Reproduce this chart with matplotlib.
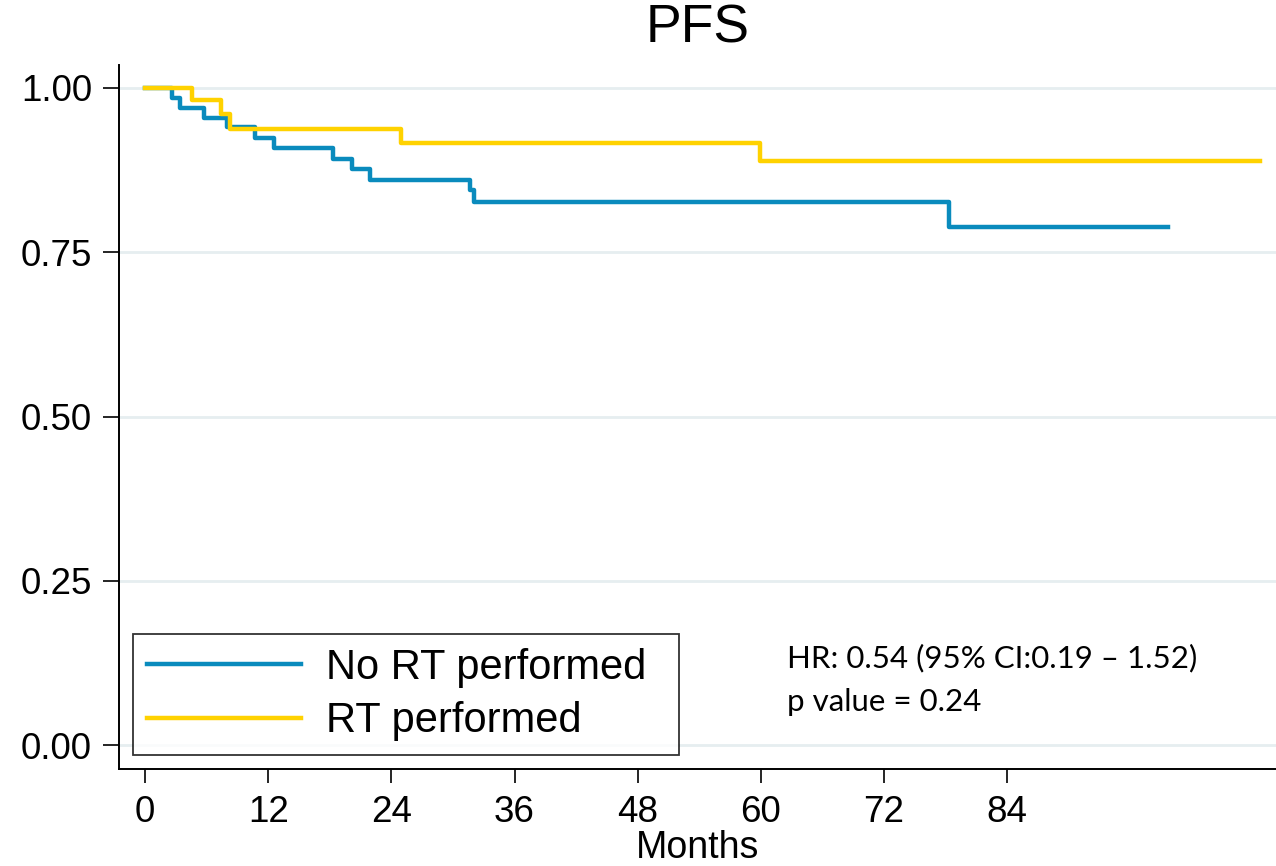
import matplotlib
matplotlib.use("Agg")
import matplotlib.pyplot as plt
import numpy as np

plt.rcParams['font.family'] = ['Liberation Sans', 'DejaVu Sans']

# Kaplan-Meier step data (months, survival probability)
no_rt_times = [0, 2.6, 3.4, 5.7, 8.0, 10.7, 12.6, 18.3, 20.2, 21.9, 31.7, 32.1, 78.3, 99.7]
no_rt_surv = [1.000, 0.985, 0.970, 0.955, 0.940, 0.924, 0.908, 0.892, 0.876, 0.860, 0.844, 0.827, 0.789, 0.789]
rt_times = [0, 4.6, 7.4, 8.3, 24.9, 59.9, 108.6]
rt_surv = [1.000, 0.981, 0.961, 0.938, 0.917, 0.889, 0.889]

labels = ["No RT performed", "RT performed"]
colors = ["#0a8bbd", "#ffd200"]

x_ticks = [0, 12, 24, 36, 48, 60, 72, 84]
y_ticks = [0.00, 0.25, 0.50, 0.75, 1.00]

fig = plt.figure(figsize=(12.76, 8.66), dpi=100)
L, R, B, T = 119, 1276, 769, 65
ax = fig.add_axes([L/1276, 1-B/866, (R-L)/1276, (B-T)/866])

for y in y_ticks:
    ax.axhline(y, color="#e6eef0", lw=2, zorder=0)

ax.step(no_rt_times, no_rt_surv, where="post", color=colors[0], lw=3.2, label=labels[0])
ax.step(rt_times, rt_surv, where="post", color=colors[1], lw=3.2, label=labels[1])

ax.set_xlim(-2.54, 110.2)
ax.set_ylim(-0.0365, 1.035)
ax.set_xticks(x_ticks)
ax.set_xticklabels([str(t) for t in x_ticks], fontsize=26.5)
ax.set_yticks(y_ticks)
ax.set_yticklabels([f"{t:.2f}" for t in y_ticks], fontsize=26.5)
ax.tick_params(axis="x", length=10, width=1.2, pad=9, direction="out")
ax.tick_params(axis="y", length=11.5, width=1.2, pad=8, direction="out")
for s in ["top", "right"]:
    ax.spines[s].set_visible(False)
for s in ["left", "bottom"]:
    ax.spines[s].set_linewidth(1.4)

ax.set_xlabel("Months", fontsize=27, labelpad=0)
ax.set_title("PFS", fontsize=38.5, pad=16)

leg = ax.legend(loc="lower left",
                bbox_to_anchor=((133-L)/(R-L), (B-755)/(B-T), (679-133)/(R-L), 0.1),
                mode="expand",
                fontsize=30, frameon=True, fancybox=False, edgecolor="black",
                handlelength=3.7, handletextpad=0.6, borderpad=0.33, labelspacing=0.32,
                borderaxespad=0)
leg.get_frame().set_linewidth(1.3)
for l in leg.get_lines():
    l.set_linewidth(3.2)

ax.text((787-L)/(R-L), (B-644)/(B-T), "HR: 0.54 (95% CI:0.19 \u2013 1.52)\np value = 0.24",
        transform=ax.transAxes, fontsize=22.5, family=["Lato", "DejaVu Sans"],
        va="top", ha="left", linespacing=1.65)

fig.savefig("out.png", dpi=100)
